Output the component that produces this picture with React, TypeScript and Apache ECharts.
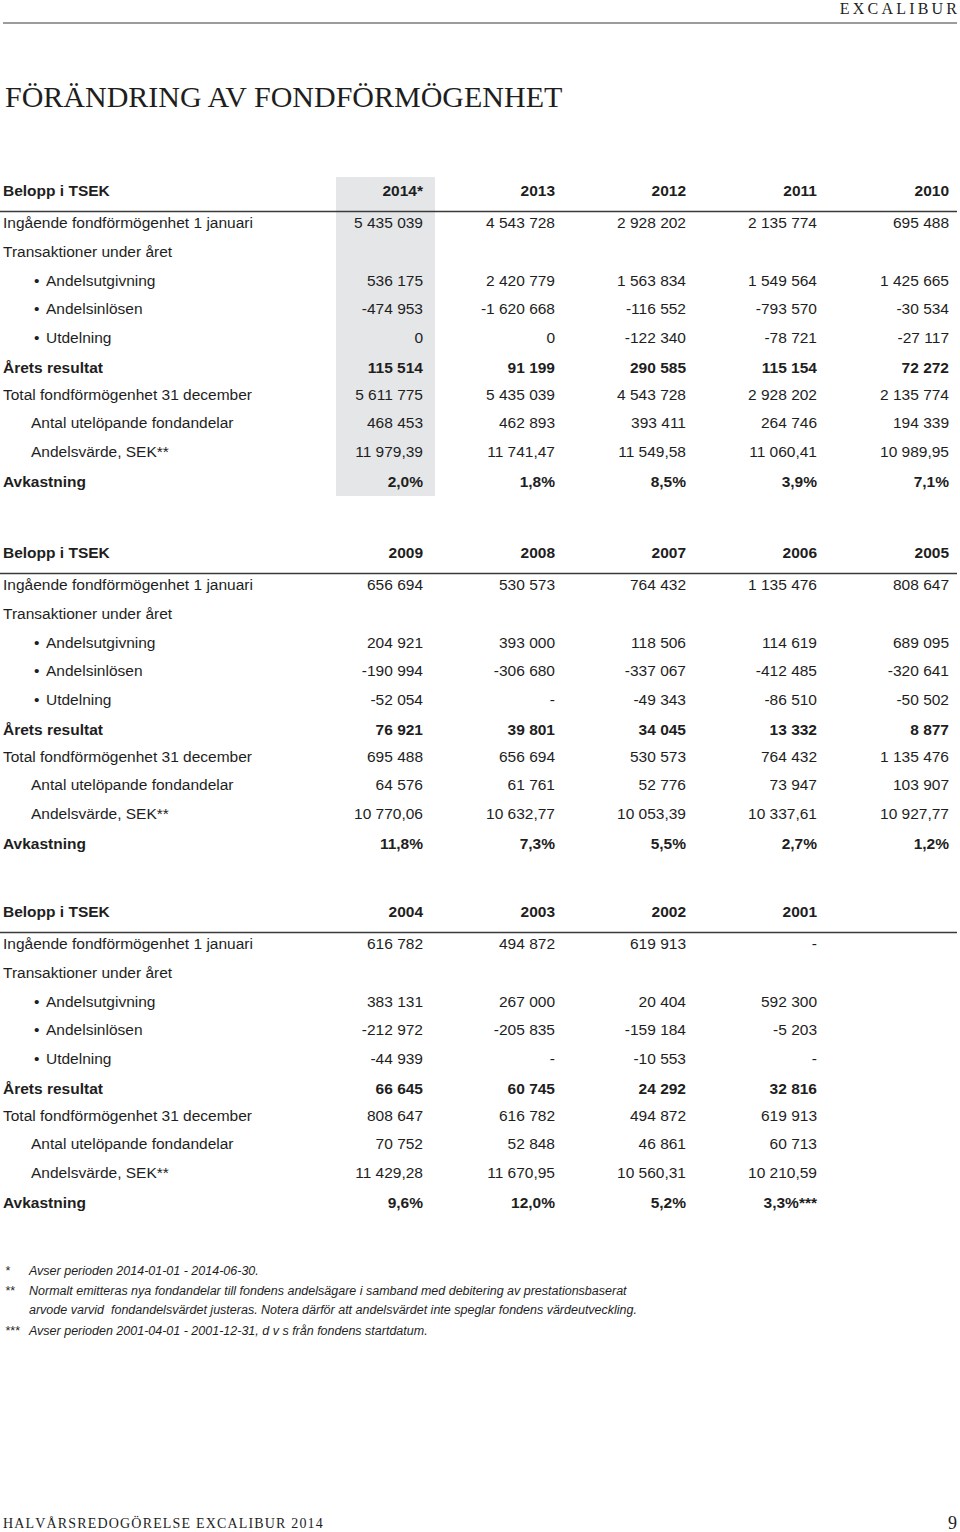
import React, { useEffect, useRef } from "react";
import * as echarts from "echarts";

const headerTitle = "EXCALIBUR";
const pageTitle = "FÖRÄNDRING AV FONDFÖRMÖGENHET";
const footerTitle = "HALVÅRSREDOGÖRELSE EXCALIBUR 2014";
const pageNumber = "9";
const headLabel = "Belopp i TSEK";

const rowLabels = [
  "Ingående fondförmögenhet 1 januari",
  "Transaktioner under året",
  "Andelsutgivning",
  "Andelsinlösen",
  "Utdelning",
  "Årets resultat",
  "Total fondförmögenhet 31 december",
  "Antal utelöpande fondandelar",
  "Andelsvärde, SEK**",
  "Avkastning",
];
const rowKinds = ["plain", "plain", "bullet", "bullet", "bullet", "bold", "plain", "indent", "indent", "bold"];

const years1 = ["2014*", "2013", "2012", "2011", "2010"];
const values1 = [
  ["5 435 039", "", "536 175", "-474 953", "0", "115 514", "5 611 775", "468 453", "11 979,39", "2,0%"],
  ["4 543 728", "", "2 420 779", "-1 620 668", "0", "91 199", "5 435 039", "462 893", "11 741,47", "1,8%"],
  ["2 928 202", "", "1 563 834", "-116 552", "-122 340", "290 585", "4 543 728", "393 411", "11 549,58", "8,5%"],
  ["2 135 774", "", "1 549 564", "-793 570", "-78 721", "115 154", "2 928 202", "264 746", "11 060,41", "3,9%"],
  ["695 488", "", "1 425 665", "-30 534", "-27 117", "72 272", "2 135 774", "194 339", "10 989,95", "7,1%"],
];

const years2 = ["2009", "2008", "2007", "2006", "2005"];
const values2 = [
  ["656 694", "", "204 921", "-190 994", "-52 054", "76 921", "695 488", "64 576", "10 770,06", "11,8%"],
  ["530 573", "", "393 000", "-306 680", "-", "39 801", "656 694", "61 761", "10 632,77", "7,3%"],
  ["764 432", "", "118 506", "-337 067", "-49 343", "34 045", "530 573", "52 776", "10 053,39", "5,5%"],
  ["1 135 476", "", "114 619", "-412 485", "-86 510", "13 332", "764 432", "73 947", "10 337,61", "2,7%"],
  ["808 647", "", "689 095", "-320 641", "-50 502", "8 877", "1 135 476", "103 907", "10 927,77", "1,2%"],
];

const years3 = ["2004", "2003", "2002", "2001"];
const values3 = [
  ["616 782", "", "383 131", "-212 972", "-44 939", "66 645", "808 647", "70 752", "11 429,28", "9,6%"],
  ["494 872", "", "267 000", "-205 835", "-", "60 745", "616 782", "52 848", "11 670,95", "12,0%"],
  ["619 913", "", "20 404", "-159 184", "-10 553", "24 292", "494 872", "46 861", "10 560,31", "5,2%"],
  ["-", "", "592 300", "-5 203", "-", "32 816", "619 913", "60 713", "10 210,59", "3,3%***"],
];

const footnoteMarks = ["*", "**", "", "***"];
const footnoteTexts = [
  "Avser perioden 2014-01-01 - 2014-06-30.",
  "Normalt emitteras nya fondandelar till fondens andelsägare i samband med debitering av prestationsbaserat",
  "arvode varvid  fondandelsvärdet justeras. Notera därför att andelsvärdet inte speglar fondens värdeutveckling.",
  "Avser perioden 2001-04-01 - 2001-12-31, d v s från fondens startdatum.",
];

const SANS = "'Liberation Sans', Arial, sans-serif";
const SERIF = "'Liberation Serif', 'Times New Roman', serif";
const INK = "#1e1e1e";
const colRight = [423, 555, 686, 817, 949];
const rowOffsets = [32, 61, 90, 118, 147, 177, 204, 232, 261, 291];
const FS = 15.5;

function spaced(s: string, sep: string) {
  return s.split("").join(sep);
}

function tableElements(headerY: number, years: string[], values: string[][]) {
  const els: any[] = [];
  els.push({
    type: "text",
    style: { text: headLabel, x: 3, y: headerY, font: `bold ${FS}px ${SANS}`, fill: INK, textVerticalAlign: "middle" },
  });
  years.forEach((yr, i) => {
    els.push({
      type: "text",
      style: { text: yr, x: colRight[i], y: headerY, font: `bold ${FS}px ${SANS}`, fill: INK, textAlign: "right", textVerticalAlign: "middle" },
    });
  });
  els.push({
    type: "line",
    shape: { x1: 0, y1: headerY + 21.5, x2: 957, y2: headerY + 21.5 },
    style: { stroke: "#3a3a3a", lineWidth: 1.5 },
  });
  rowLabels.forEach((lab, r) => {
    const kind = rowKinds[r];
    const y = headerY + rowOffsets[r];
    const bold = kind === "bold";
    const font = `${bold ? "bold " : ""}${FS}px ${SANS}`;
    let x = 3;
    if (kind === "bullet") x = 46;
    if (kind === "indent") x = 31;
    if (kind === "bullet") {
      els.push({ type: "text", style: { text: "•", x: 34, y, font, fill: INK, textVerticalAlign: "middle" } });
    }
    els.push({ type: "text", style: { text: lab, x, y, font, fill: INK, textVerticalAlign: "middle" } });
    values.forEach((col, c) => {
      if (!col[r]) return;
      els.push({
        type: "text",
        style: { text: col[r], x: colRight[c], y, font, fill: INK, textAlign: "right", textVerticalAlign: "middle" },
      });
    });
  });
  return els;
}

export default function App() {
  const ref = useRef<HTMLDivElement>(null);
  useEffect(() => {
    document.body.style.margin = "0";
    if (!ref.current) return;
    const chart = echarts.init(ref.current, undefined, { renderer: "svg" });
    const elements: any[] = [];
    elements.push({ type: "rect", shape: { x: 336, y: 177, width: 99, height: 319 }, style: { fill: "#e4e6e7" } });
    elements.push({
      type: "text",
      style: { text: spaced(headerTitle, "\u2009"), x: 957, y: 8, font: `16px ${SERIF}`, fill: INK, textAlign: "right", textVerticalAlign: "middle" },
    });
    elements.push({ type: "line", shape: { x1: 3, y1: 23, x2: 957, y2: 23 }, style: { stroke: "#3a3a3a", lineWidth: 1.2 } });
    elements.push({
      type: "text",
      style: { text: pageTitle, x: 5, y: 96, font: `30px ${SERIF}`, fill: INK, textVerticalAlign: "middle" },
    });
    elements.push(...tableElements(190, years1, values1));
    elements.push(...tableElements(552, years2, values2));
    elements.push(...tableElements(911, years3, values3));
    const fnY = [1271, 1291, 1310, 1331];
    footnoteTexts.forEach((t, i) => {
      if (footnoteMarks[i]) {
        elements.push({ type: "text", style: { text: footnoteMarks[i], x: 5, y: fnY[i], font: `italic 12.5px ${SANS}`, fill: INK, textVerticalAlign: "middle" } });
      }
      elements.push({ type: "text", style: { text: t, x: 29, y: fnY[i], font: `italic 12.5px ${SANS}`, fill: INK, textVerticalAlign: "middle" } });
    });
    elements.push({
      type: "text",
      style: { text: spaced(footerTitle, "\u200A"), x: 3, y: 1523, font: `14px ${SERIF}`, fill: INK, textVerticalAlign: "middle" },
    });
    elements.push({
      type: "text",
      style: { text: pageNumber, x: 957, y: 1523, font: `18px ${SERIF}`, fill: INK, textAlign: "right", textVerticalAlign: "middle" },
    });
    chart.setOption({ animation: false, graphic: { elements } });
    return () => chart.dispose();
  }, []);
  return <div ref={ref} style={{ width: 960, height: 1532 }} />;
}
